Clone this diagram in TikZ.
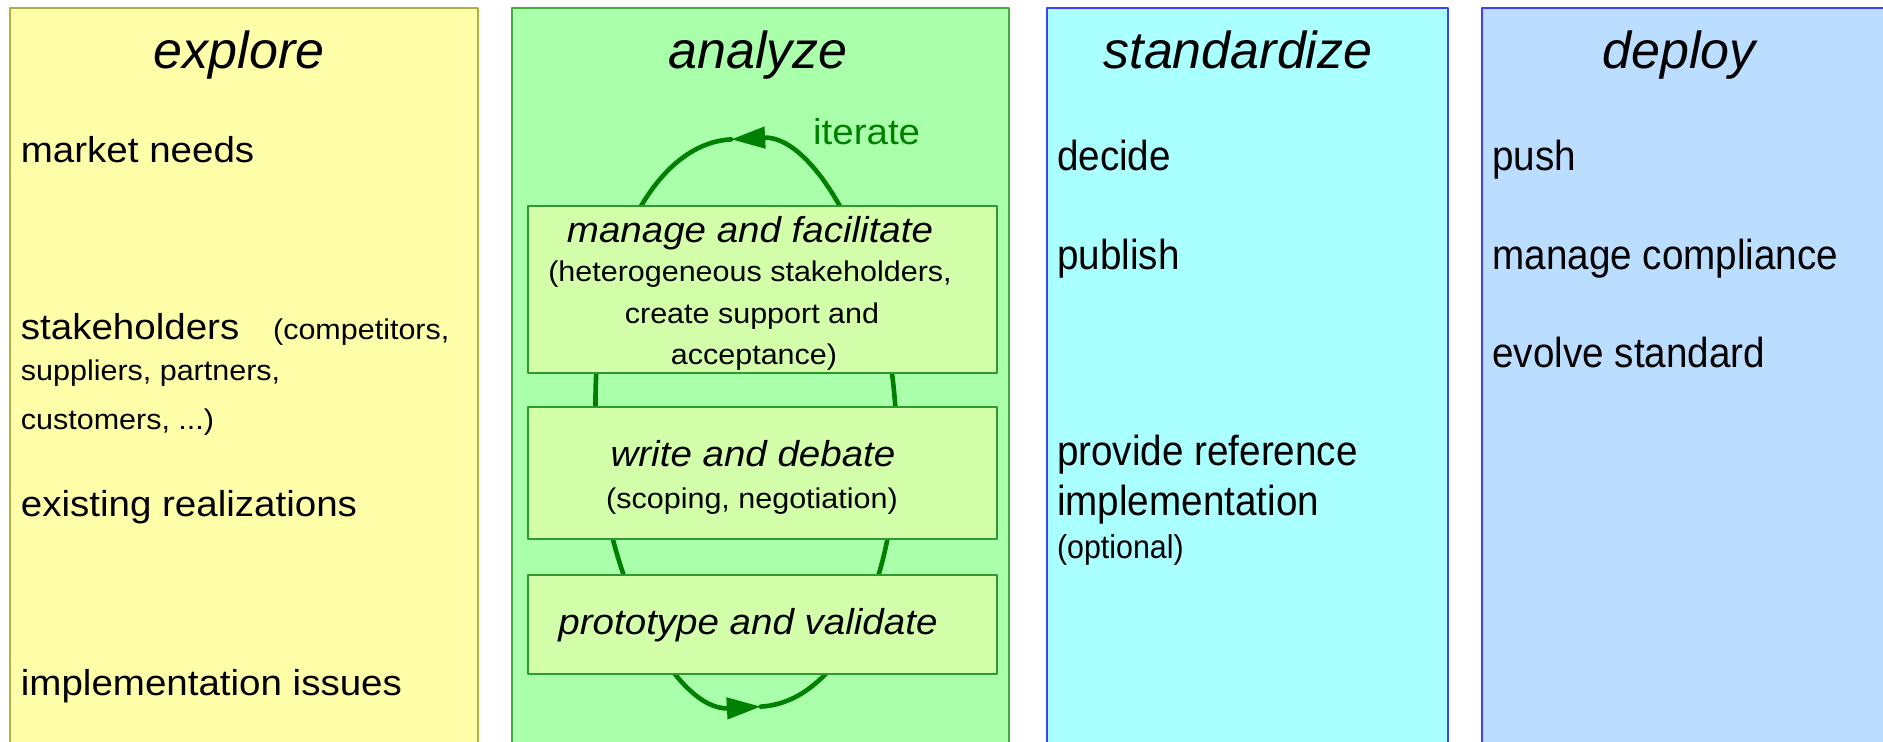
\documentclass[tikz,border=0pt]{standalone}
\usepackage{fontspec}
\setmainfont[FakeStretch=1.07]{Liberation Sans}
\newfontfamily\narrowsf[FakeStretch=0.92]{Liberation Sans}
\newfontfamily\titlesf{Liberation Sans}
\usetikzlibrary{arrows.meta}
\definecolor{exploreFill}{HTML}{FFFFAA}
\definecolor{exploreLine}{HTML}{B0B040}
\definecolor{analyzeFill}{HTML}{AAFFAA}
\definecolor{analyzeLine}{HTML}{44AA44}
\definecolor{stepFill}{HTML}{D4FFAA}
\definecolor{stepLine}{HTML}{2E9A2E}
\definecolor{loopGreen}{HTML}{008000}
\definecolor{standFill}{HTML}{AAFFFF}
\definecolor{deployFill}{HTML}{BBDDFF}
\definecolor{blueLine}{HTML}{3F3FFF}

\begin{document}
\begin{tikzpicture}[line cap=round,line join=round,>={Triangle[length=17pt,width=10.5pt]},x=0.5pt,y=-0.5pt,
        col/.style={line width=0.75pt},
        actbox/.style={draw=stepLine,fill=stepFill,line width=1pt},
        ttl/.style={anchor=base,inner sep=0pt,font=\titlesf\fontsize{26}{30}\selectfont\itshape},
        txt/.style={anchor=base west,inner sep=0pt,font=\fontsize{18}{22}\selectfont},
        sml/.style={anchor=base west,inner sep=0pt,font=\fontsize{14.25}{17}\selectfont},
        ntxt/.style={anchor=base west,inner sep=0pt,font=\narrowsf\fontsize{21}{25}\selectfont},
        nsml/.style={anchor=base west,inner sep=0pt,font=\narrowsf\fontsize{16.5}{20}\selectfont},
        boxtxt/.style={anchor=base,inner sep=0pt,font=\fontsize{18}{22}\selectfont\itshape},
        boxsml/.style={anchor=base,inner sep=0pt,font=\fontsize{14.25}{17}\selectfont},
        iterloop/.style={draw=loopGreen,line width=2.3pt,->}]
        \clip(0,0) rectangle (1883,742);
        \filldraw [col,draw=exploreLine,fill=exploreFill] (10,8) rectangle (478,760);
        \filldraw [col,draw=analyzeLine,fill=analyzeFill] (512,8) rectangle (1009,760);
        \filldraw [col,draw=blueLine,fill=standFill] (1047,8) rectangle (1448,760);
        \filldraw [col,draw=blueLine,fill=deployFill] (1482,8) rectangle (1900,760);
        \coordinate (loopc) at (746,423);
        \begin{scope}[shift={(loopc)},rotate=3]
                \draw [iterloop] (0,284) arc[start angle=90,end angle=-90,x radius=150,y radius=284];
                \draw [iterloop] (0,-284) arc[start angle=270,end angle=90,x radius=150,y radius=284];
        \end{scope}
        \filldraw [actbox] (528,206) rectangle (997,373);
        \filldraw [actbox] (528,407) rectangle (997,539);
        \filldraw [actbox] (528,575) rectangle (997,674);
        \node[ttl] (tExplore) at (239,68.5) {explore};
        \node[txt] (market) at (20.5,162.3) {market needs};
        \node[txt] (stake) at (20.5,339.8) {stakeholders};
        \node[sml] (stakeA) at (272.7,339.8) {(competitors,};
        \node[sml] (stakeB) at (20.5,381) {suppliers, partners,};
        \node[sml] (stakeC) at (20.5,429.7) {customers, ...)};
        \node[txt] (exist) at (20.5,516.8) {existing realizations};
        \node[txt] (implIss) at (20.5,695.7) {implementation issues};
        \node[ttl] (tAnalyze) at (758,68.5) {analyze};
        \node[txt,text=loopGreen] (iter) at (812.7,144.3) {iterate};
        \node[boxtxt] (manage) at (750,242.7) {manage and facilitate};
        \node[boxsml] (manageA) at (750,281.7) {(heterogeneous stakeholders,};
        \node[boxsml] (manageB) at (752,324) {create support and};
        \node[boxsml] (manageC) at (754,365) {acceptance)};
        \node[boxtxt] (write) at (753,466.2) {write and debate};
        \node[boxsml] (writeA) at (752,508.8) {(scoping, negotiation)};
        \node[boxtxt] (proto) at (748,634.2) {prototype and validate};
        \node[ttl] (tStand) at (1238,68.5) {standardize};
        \node[ntxt] (decide) at (1056.7,170.4) {decide};
        \node[ntxt] (publish) at (1056.7,269.8) {publish};
        \node[ntxt] (refA) at (1056.7,466) {provide reference};
        \node[ntxt] (refB) at (1056.7,515.9) {implementation};
        \node[nsml] (refC) at (1056.7,558.4) {(optional)};
        \node[ttl] (tDeploy) at (1679,68.5) {deploy};
        \node[ntxt] (push) at (1492,170.4) {push};
        \node[ntxt] (comply) at (1492,269.8) {manage compliance};
        \node[ntxt] (evolve) at (1492,367.5) {evolve standard};
\end{tikzpicture}
\end{document}
